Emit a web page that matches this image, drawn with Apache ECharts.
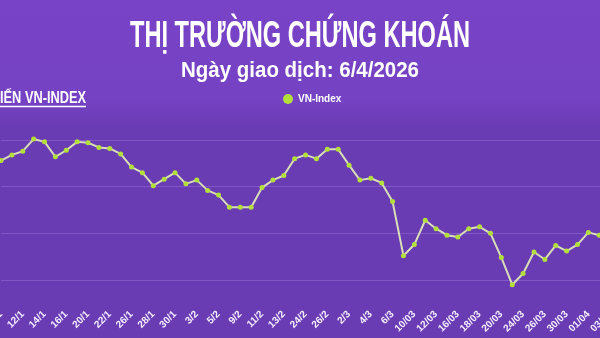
<!DOCTYPE html>
<html>
<head>
<meta charset="utf-8">
<script src="https://cdn.jsdelivr.net/npm/echarts@6/dist/echarts.min.js"></script>
<style>html,body{margin:0;padding:0;background:#6a3cb4;}#c{width:600px;height:338px;}</style>
</head>
<body>
<div id="c"></div>
<script>
const dates = ['8/1','9/1','12/1','13/1','14/1','15/1','16/1','19/1','20/1','21/1','22/1','23/1','26/1','27/1','28/1','29/1','30/1','2/2','3/2','4/2','5/2','6/2','9/2','10/2','11/2','12/2','13/2','23/2','24/2','25/2','26/2','27/2','2/3','3/3','4/3','5/3','6/3','9/3','10/03','11/03','12/03','13/03','16/03','17/03','18/03','19/03','20/03','23/03','24/03','25/03','26/03','27/03','30/03','31/03','01/04','02/04','03/04','06/04'];
const vnIndex = [1778,1784,1788,1801,1798,1782,1789,1798,1797,1792,1791,1785,1771,1765,1751,1758,1765,1753,1757,1746,1741,1728,1728,1728,1749,1757,1762,1780,1784,1780,1790,1790,1773,1757,1759,1754,1734,1676,1688,1714,1705,1698,1696,1705,1707,1700,1674,1645,1657,1680,1672,1687,1681,1688,1701,1698,1695,1701];
const seriesName = 'VN-Index';
const titleText = 'THỊ TRƯỜNG CHỨNG KHOÁN';
const subtitleText = 'Ngày giao dịch: 6/4/2026';
const sectionText = 'DIỄN BIẾN VN-INDEX';

const FONT = '"Liberation Sans Narrow", "Liberation Sans", sans-serif';
const mctx = document.createElement('canvas').getContext('2d');
function textWidth(text, font) { mctx.font = font; return mctx.measureText(text).width; }
const titleFont = 'bold 36px ' + FONT;
const subFont = 'bold 22px ' + FONT;
const secFont = 'bold 16px ' + FONT;
const titleScale = 340 / textWidth(titleText, titleFont);
const subScale = 238 / textWidth(subtitleText, subFont);
const secScale = 86 / textWidth('IẾN VN-INDEX', secFont);

const chart = echarts.init(document.getElementById('c'), null, {renderer: 'canvas'});
const grid = 'rgba(150,110,215,0.5)';
chart.setOption({
  animation: false,
  backgroundColor: '#6a3cb4',
  graphic: [
    { type: 'rect', z: -10, shape: {x: 0, y: 0, width: 600, height: 125},
      style: { fill: new echarts.graphic.LinearGradient(0, 0, 0, 1, [
        {offset: 0, color: '#7843c6'}, {offset: 0.8, color: '#7642c4'}, {offset: 1, color: '#6a3cb4'}]) } },
    { type: 'text', x: 300, y: 37, scaleX: titleScale, z: 10,
      style: { text: titleText, font: titleFont, fill: '#ffffff', textAlign: 'center', textVerticalAlign: 'middle' } },
    { type: 'text', x: 300, y: 71, scaleX: subScale, z: 10,
      style: { text: subtitleText, font: subFont, fill: '#ffffff', textAlign: 'center', textVerticalAlign: 'middle' } },
    { type: 'text', x: 86, y: 99, scaleX: secScale, z: 10,
      style: { text: sectionText, font: secFont, fill: '#ffffff', textAlign: 'right', textVerticalAlign: 'middle' } },
    { type: 'line', z: 10, shape: {x1: -50, y1: 106.5, x2: 86, y2: 106.5},
      style: { stroke: '#ffffff', lineWidth: 1.5 } }
  ],
  legend: {
    data: [seriesName], left: 278, top: 89, icon: 'circle', itemWidth: 10, itemHeight: 10, itemGap: 4,
    textStyle: { color: '#ffffff', fontFamily: FONT, fontWeight: 'bold', fontSize: 10 }
  },
  grid: { left: 1, right: -21, top: 93.3, bottom: 11.3, outerBoundsMode: 'none', containLabel: false },
  xAxis: {
    type: 'category', data: dates, boundaryGap: false, offset: -22,
    axisLine: {show: false}, axisTick: {show: false}, splitLine: {show: false},
    axisLabel: { interval: 1, rotate: 45, margin: 8, color: '#f4ecff', fontFamily: FONT, fontWeight: 'bold', fontSize: 10 }
  },
  yAxis: {
    type: 'value', min: 1600, max: 1850, interval: 50,
    axisLine: {show: false}, axisTick: {show: false}, axisLabel: {show: false},
    splitLine: { show: true, lineStyle: { width: 1, color: ['rgba(0,0,0,0)', grid, grid, grid, grid, 'rgba(0,0,0,0)'] } }
  },
  series: [{
    name: seriesName, type: 'line', data: vnIndex,
    symbol: 'circle', symbolSize: 5, showAllSymbol: true,
    itemStyle: { color: '#b3e03a' },
    lineStyle: { color: '#d9deb8', width: 2 },
    emphasis: { disabled: true }
  }]
});
</script>
</body>
</html>
